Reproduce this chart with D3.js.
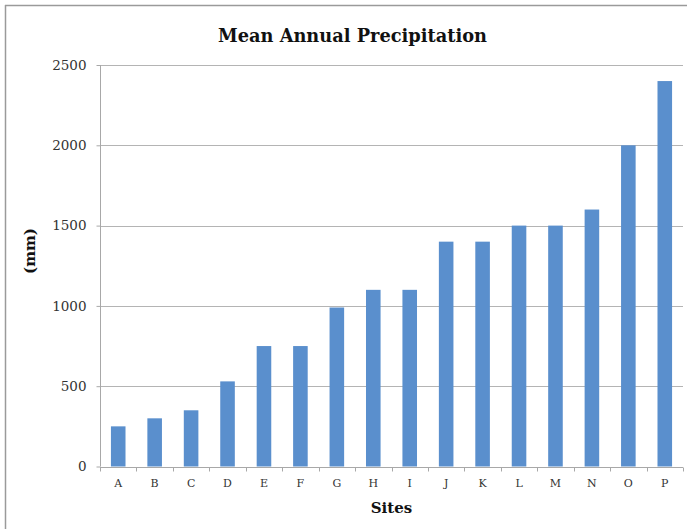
<!DOCTYPE html>
<html>
<head>
<meta charset="utf-8">
<script src="https://cdn.jsdelivr.net/npm/d3@7"></script>
<style>
  html, body { margin: 0; padding: 0; background: #fff; overflow: hidden; }
  svg { display: block; }
  text { font-family: "DejaVu Serif", serif; }
</style>
</head>
<body>
<svg id="chart" width="687" height="529"></svg>
<script>
// Mean annual precipitation by site (mm)
const sites = ["A","B","C","D","E","F","G","H","I","J","K","L","M","N","O","P"];
const precipitation = [250, 300, 350, 530, 750, 750, 990, 1100, 1100, 1400, 1400, 1500, 1500, 1600, 2000, 2400];
const yTicks = [0, 500, 1000, 1500, 2000, 2500];

const svg = d3.select("#chart");
const W = 687, H = 529;
const plot = { left: 100, right: 683, top: 65, bottom: 466.5 };

// outer frame: top and left edges
svg.append("line")
  .attr("x1", 5).attr("x2", W).attr("y1", 5.5).attr("y2", 5.5)
  .attr("stroke", "#9a9a9a").attr("stroke-width", 1.5);
svg.append("line")
  .attr("x1", 5.5).attr("x2", 5.5).attr("y1", 5).attr("y2", H)
  .attr("stroke", "#9a9a9a").attr("stroke-width", 1.5);

const x = d3.scaleBand()
  .domain(sites)
  .range([plot.left, plot.right])
  .paddingInner(0.6)
  .paddingOuter(0.3);

const y = d3.scaleLinear()
  .domain([0, 2500])
  .range([plot.bottom, plot.top]);

// horizontal gridlines
svg.append("g")
  .selectAll("line")
  .data(yTicks.filter(d => d > 0))
  .join("line")
  .attr("x1", plot.left).attr("x2", plot.right)
  .attr("y1", d => Math.round(y(d)) + 0.5).attr("y2", d => Math.round(y(d)) + 0.5)
  .attr("stroke", "#b4b4b4")
  .attr("stroke-width", 1);

// bars
svg.append("g")
  .selectAll("rect")
  .data(sites.map((s, i) => ({ site: s, value: precipitation[i] })))
  .join("rect")
  .attr("x", d => x(d.site))
  .attr("width", x.bandwidth())
  .attr("y", d => y(d.value))
  .attr("height", d => y(0) - y(d.value))
  .attr("fill", "#5a8fcd");

// y axis
const yAxis = svg.append("g")
  .attr("transform", `translate(${plot.left + 0.5},0)`)
  .call(d3.axisLeft(y).tickValues(yTicks).tickSize(4).tickPadding(10).tickFormat(d3.format("d")));
yAxis.select(".domain").attr("stroke", "#a8a8a8").attr("d", `M0,${plot.top}V${plot.bottom}`);
yAxis.selectAll(".tick line").attr("stroke", "#a8a8a8");
yAxis.selectAll(".tick text")
  .attr("font-family", "DejaVu Serif, serif")
  .attr("font-size", 13.5)
  .attr("fill", "#333");

// x axis: baseline with ticks at category boundaries
const xAxisG = svg.append("g").attr("transform", `translate(0,${Math.round(plot.bottom) + 0.5})`);
xAxisG.append("line")
  .attr("x1", plot.left).attr("x2", plot.right)
  .attr("stroke", "#a8a8a8");
const boundaries = d3.range(sites.length + 1).map(i => plot.left + (plot.right - plot.left) * i / sites.length);
xAxisG.selectAll("line.tick")
  .data(boundaries)
  .join("line")
  .attr("class", "tick")
  .attr("x1", d => Math.round(d) + 0.5).attr("x2", d => Math.round(d) + 0.5)
  .attr("y1", 0).attr("y2", 4)
  .attr("stroke", "#a8a8a8");
xAxisG.selectAll("text")
  .data(sites)
  .join("text")
  .attr("x", d => x(d) + x.bandwidth() / 2)
  .attr("y", 19.5)
  .attr("text-anchor", "middle")
  .attr("font-size", 11)
  .attr("fill", "#333")
  .text(d => d);

// title
svg.append("text")
  .attr("x", 352.5)
  .attr("y", 41.5)
  .attr("text-anchor", "middle")
  .attr("font-size", 17.8)
  .attr("font-weight", "bold")
  .attr("fill", "#111")
  .text("Mean Annual Precipitation");

// axis titles
svg.append("text")
  .attr("x", 391.5)
  .attr("y", 513)
  .attr("text-anchor", "middle")
  .attr("font-size", 15)
  .attr("font-weight", "bold")
  .attr("fill", "#111")
  .text("Sites");

svg.append("text")
  .attr("transform", "translate(35,251) rotate(-90)")
  .attr("text-anchor", "middle")
  .attr("font-size", 15)
  .attr("font-weight", "bold")
  .attr("fill", "#111")
  .text("(mm)");
</script>
</body>
</html>
